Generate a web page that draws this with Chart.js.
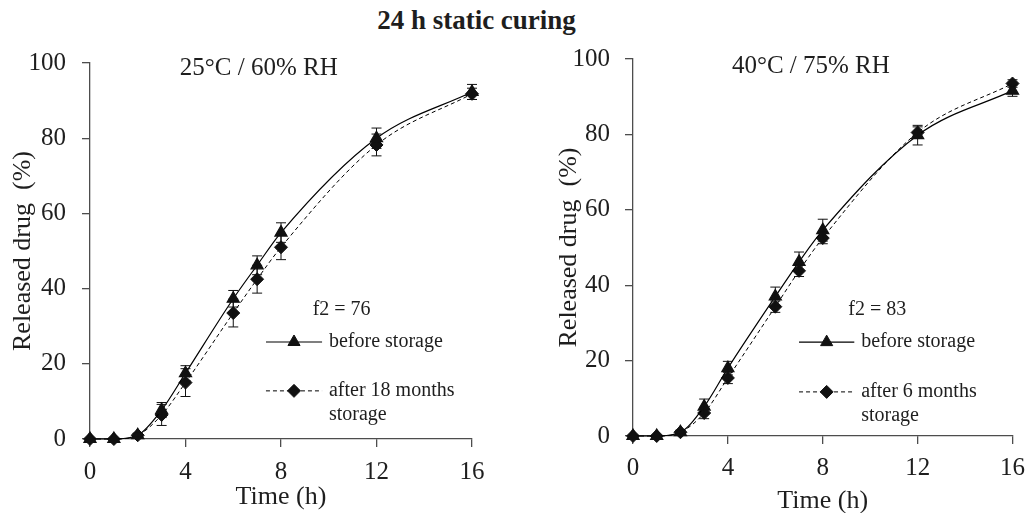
<!DOCTYPE html>
<html>
<head>
<meta charset="utf-8">
<script src="https://cdn.jsdelivr.net/npm/chart.js@4.4.1/dist/chart.umd.min.js"></script>
<style>
  html, body { margin: 0; padding: 0; background: #fff; }
  #wrap { position: relative; width: 1034px; height: 513px; }
  #main-title { position: absolute; left: 0; width: 953px; top: 7px; text-align: center;
    font: bold 27px/27px "Liberation Serif", "Times New Roman", serif; color: #1e1e1e; }
  .panel { position: absolute; top: 0; height: 513px; }
  #panel-left { left: 0; width: 520px; }
  #panel-right { left: 520px; width: 514px; }
</style>
</head>
<body>
<div id="wrap">
  <div id="main-title">24 h static curing</div>
  <div class="panel" id="panel-left"><canvas id="chart-left"></canvas></div>
  <div class="panel" id="panel-right"><canvas id="chart-right"></canvas></div>
</div>
<script>
// sampling times (h) and axis ticks
const timeH = [0, 1, 2, 3, 4, 6, 7, 8, 12, 16];
const xTicks = [0, 4, 8, 12, 16];
const yTicks = [0, 20, 40, 60, 80, 100];

// 25°C / 60% RH
const before25 = [0, 0, 1, 7.7, 17.5, 37.3, 46.2, 54.9, 80, 92.3];
const before25Err = [0, 0, 0.5, 2, 2, 2.2, 2.5, 2.6, 2.7, 2];
const after18m = [0, 0, 1, 6.4, 15, 33.5, 42.5, 51, 78.2, 91.8];
const after18mErr = [0, 0, 0.5, 2.8, 3.7, 3.7, 3.7, 3.3, 2.9, 1.5];

// 40°C / 75% RH
const before40 = [0, 0, 1, 7.8, 18, 37, 46.2, 54.6, 79.8, 91.6];
const before40Err = [0, 0, 0.5, 2, 1.8, 2.5, 2.6, 2.9, 2.6, 1.5];
const after6m = [0, 0, 1, 6.1, 15.4, 34.3, 43.8, 52.5, 80.5, 93.5];
const after6mErr = [0, 0, 0.5, 1.5, 1.5, 1.5, 1.5, 1.5, 1.5, 1];

const FONT = '"Liberation Serif", "Times New Roman", serif';
const INK = '#1e1e1e';
const AXIS = '#4d4d4d';

const toPoints = vals => vals.map((v, i) => ({ x: timeH[i], y: v }));

const errorBars = {
  id: 'errorBars',
  afterDatasetsDraw(chart) {
    const { ctx, scales: { x, y } } = chart;
    ctx.save();
    ctx.strokeStyle = '#111';
    ctx.lineWidth = 1;
    chart.data.datasets.forEach(ds => {
      if (!ds.errors) return;
      ds.data.forEach((p, j) => {
        const e = ds.errors[j];
        if (!e) return;
        const px = x.getPixelForValue(p.x);
        const top = y.getPixelForValue(p.y + e);
        const bot = y.getPixelForValue(p.y - e);
        ctx.beginPath();
        ctx.moveTo(px, top); ctx.lineTo(px, bot);
        ctx.moveTo(px - 5, top); ctx.lineTo(px + 5, top);
        ctx.moveTo(px - 5, bot); ctx.lineTo(px + 5, bot);
        ctx.stroke();
      });
    });
    ctx.restore();
  }
};

// panel title, f2 value and the in-plot legend
const notes = {
  id: 'notes',
  afterDraw(chart, args, opts) {
    const { ctx, scales: { x, y } } = chart;
    ctx.save();
    ctx.fillStyle = INK;
    ctx.textBaseline = 'alphabetic';
    ctx.textAlign = 'center';
    ctx.font = `25px ${FONT}`;
    ctx.fillText(opts.title, x.getPixelForValue(opts.titleAt[0]), y.getPixelForValue(opts.titleAt[1]));
    ctx.font = `20px ${FONT}`;
    ctx.fillText(opts.f2, x.getPixelForValue(opts.f2At[0]), y.getPixelForValue(opts.f2At[1]));

    const lg = opts.legend;
    const x0 = x.getPixelForValue(lg.from);
    const x1 = x.getPixelForValue(lg.to);
    const xt = x.getPixelForValue(lg.text);
    chart.data.datasets.forEach((ds, i) => {
      const py = y.getPixelForValue(lg.rows[i]);
      ctx.strokeStyle = ds.borderColor;
      ctx.lineWidth = ds.borderWidth;
      ctx.setLineDash(ds.borderDash || []);
      ctx.beginPath();
      ctx.moveTo(x0, py); ctx.lineTo(x1, py);
      ctx.stroke();
      ctx.setLineDash([]);
      ctx.fillStyle = ds.pointBackgroundColor;
      ctx.strokeStyle = ds.pointBorderColor;
      ctx.lineWidth = 1;
      Chart.helpers.drawPoint(ctx, { pointStyle: ds.pointStyle, radius: ds.pointRadius, rotation: 0, borderWidth: 1 }, (x0 + x1) / 2, py);
      ctx.fillStyle = INK;
      ctx.textAlign = 'left';
      ctx.font = `20px ${FONT}`;
      ds.legendText.forEach((t, k) => ctx.fillText(t, xt, py + 5 + k * 24));
    });
    ctx.restore();
  }
};

function makeDatasets(beforeVals, beforeErr, afterVals, afterErr, afterText) {
  return [{
    data: toPoints(beforeVals),
    errors: beforeErr,
    legendText: ['before storage'],
    borderColor: '#000',
    borderWidth: 1.2,
    pointStyle: 'triangle',
    pointRadius: 7,
    pointBackgroundColor: '#111',
    pointBorderColor: '#111',
    cubicInterpolationMode: 'monotone',
    clip: false,
  }, {
    data: toPoints(afterVals),
    errors: afterErr,
    legendText: afterText,
    borderColor: '#000',
    borderWidth: 1,
    borderDash: [4, 3],
    pointStyle: 'rectRot',
    pointRadius: 6.5,
    pointBackgroundColor: '#111',
    pointBorderColor: '#111',
    cubicInterpolationMode: 'monotone',
    clip: false,
  }];
}

function makeChart(canvasId, datasets, lay, noteOpts) {
  return new Chart(document.getElementById(canvasId), {
    type: 'line',
    data: { datasets },
    plugins: [errorBars, notes],
    options: {
      responsive: true,
      maintainAspectRatio: false,
      animation: false,
      events: [],
      layout: { padding: { left: 0, right: lay.right, top: lay.top, bottom: 0 } },
      plugins: {
        legend: { display: false },
        tooltip: { enabled: false },
        notes: noteOpts,
      },
      scales: {
        x: {
          type: 'linear',
          min: 0,
          max: 16,
          afterBuildTicks: s => { s.ticks = xTicks.map(v => ({ value: v })); },
          afterFit: s => { s.height = lay.xHeight; },
          grid: { drawOnChartArea: false, drawTicks: true, tickLength: 8, color: AXIS, lineWidth: 1.3 },
          border: { display: true, color: AXIS, width: 1.3 },
          ticks: { color: INK, padding: lay.xPad, maxRotation: 0, font: { family: FONT, size: 25 } },
          title: {
            display: true, text: 'Time (h)', color: INK, padding: 0,
            font: { family: FONT, size: 26, lineHeight: lay.xTitleLH },
          },
        },
        y: {
          min: 0,
          max: 100,
          afterBuildTicks: s => { s.ticks = yTicks.map(v => ({ value: v })); },
          afterFit: s => { s.width = lay.yWidth; },
          grid: { drawOnChartArea: false, drawTicks: true, tickLength: 8, color: AXIS, lineWidth: 1.3 },
          border: { display: true, color: AXIS, width: 1.3 },
          ticks: { color: INK, padding: lay.yPad, font: { family: FONT, size: 25 } },
          title: {
            display: true, text: 'Released drug  (%)', color: INK,
            padding: { top: lay.yTitlePad, bottom: 0 },
            font: { family: FONT, size: 26, lineHeight: 1.2 },
          },
        },
      },
    },
  });
}

makeChart('chart-left',
  makeDatasets(before25, before25Err, after18m, after18mErr, ['after 18 months', 'storage']),
  { right: 48, top: 63, xHeight: 74, yWidth: 90, xPad: 10, yPad: 16, yTitlePad: 8, xTitleLH: 1.2 },
  { title: '25°C / 60% RH', titleAt: [7.07, 96.8], f2: 'f2 = 76', f2At: [10.54, 33],
    legend: { from: 7.37, to: 9.72, text: 10.01, rows: [25.8, 12.8] } });

makeChart('chart-right',
  makeDatasets(before40, before40Err, after6m, after6mErr, ['after 6 months', 'storage']),
  { right: 15, top: 59, xHeight: 77, yWidth: 113, xPad: 9, yPad: 15, yTitlePad: 34, xTitleLH: 0.92 },
  { title: '40°C / 75% RH', titleAt: [7.5, 96.3], f2: 'f2 = 83', f2At: [10.3, 32.1],
    legend: { from: 7.0, to: 9.33, text: 9.62, rows: [24.9, 11.7] } });
</script>
</body>
</html>
